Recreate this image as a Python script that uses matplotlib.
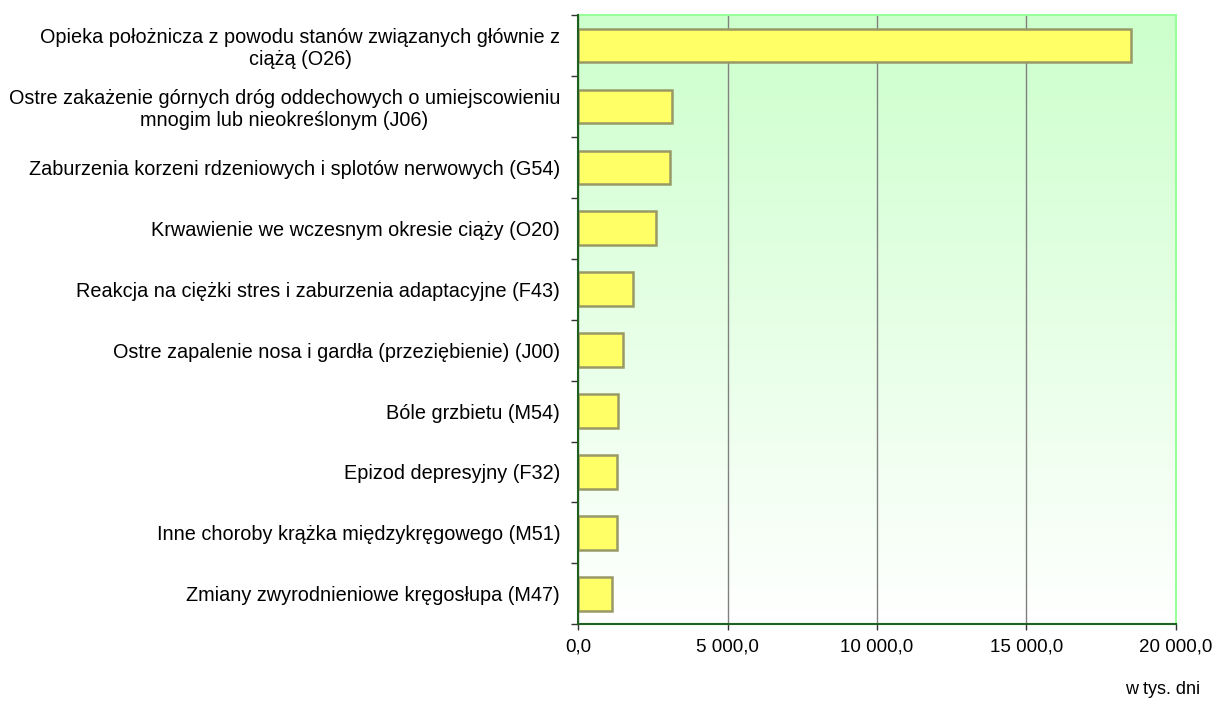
import matplotlib
matplotlib.use("Agg")
import matplotlib.pyplot as plt
import numpy as np
from matplotlib.ticker import FuncFormatter, FixedLocator

plt.rcParams['font.family'] = ['Liberation Sans', 'DejaVu Sans']

categories = [
    "Opieka położnicza z powodu stanów związanych głównie z\nciążą (O26)",
    "Ostre zakażenie górnych dróg oddechowych o umiejscowieniu\nmnogim lub nieokreślonym (J06)",
    "Zaburzenia korzeni rdzeniowych i splotów nerwowych (G54)",
    "Krwawienie we wczesnym okresie ciąży (O20)",
    "Reakcja na ciężki stres i zaburzenia adaptacyjne (F43)",
    "Ostre zapalenie nosa i gardła (przeziębienie) (J00)",
    "Bóle grzbietu (M54)",
    "Epizod depresyjny (F32)",
    "Inne choroby krążka międzykręgowego (M51)",
    "Zmiany zwyrodnieniowe kręgosłupa (M47)",
]
values = [18515, 3150, 3060, 2600, 1840, 1485, 1317, 1310, 1283, 1138]
x_ticks = [0, 5000, 10000, 15000, 20000]
unit_label = "w tys. dni"

fig = plt.figure(figsize=(12.12, 7.13), dpi=100)
ax = fig.add_axes([578.3/1212, 1-624.3/713, (1175.7-578.3)/1212, (624.3-15)/713])

n = len(categories)
y = np.arange(n)

# gradient background
grad = np.linspace(0, 1, 256).reshape(-1, 1)
top = np.array([204, 255, 204]) / 255.0
bot = np.array([255, 255, 255]) / 255.0
img = top[None, None, :] * (1 - grad[:, :, None]) + bot[None, None, :] * grad[:, :, None]
ax.imshow(img, extent=[0, 1, 0, 1], transform=ax.transAxes, aspect='auto', zorder=0)

ax.barh(y, values, height=0.55, color='#FFFF66', edgecolor='#999966', linewidth=1.8, zorder=3)

ax.set_xlim(0, 20000)
ax.set_ylim(n - 0.5, -0.5)

ax.xaxis.set_major_locator(FixedLocator(x_ticks))
ax.xaxis.set_major_formatter(FuncFormatter(lambda v, p: f"{v:,.1f}".replace(",", " ").replace(".", ",")))
ax.grid(axis='x', color='#808080', linewidth=1.0, zorder=1)
ax.set_axisbelow(True)

ax.set_yticks(y)
ax.set_yticklabels(categories, multialignment='center')
ax.yaxis.set_minor_locator(FixedLocator(np.arange(-0.5, n, 1.0)))
ax.tick_params(axis='y', which='major', length=0, pad=13, labelsize=14.3)
ax.tick_params(axis='y', which='minor', length=5, width=1, color='#333333', direction='out')
ax.tick_params(axis='x', which='major', length=4, width=1, color='#333333', direction='out', pad=6, labelsize=13.5)

for s in ['top', 'right']:
    ax.spines[s].set_color('#99FF99')
    ax.spines[s].set_linewidth(1.5)
for s in ['left', 'bottom']:
    ax.spines[s].set_color('#1f5f1f')
    ax.spines[s].set_linewidth(1.5)
    ax.spines[s].set_zorder(5)

fig.text(1200/1212, 1-689/713, unit_label, ha='right', va='center', fontsize=13)

fig.savefig("out.png", dpi=100)
